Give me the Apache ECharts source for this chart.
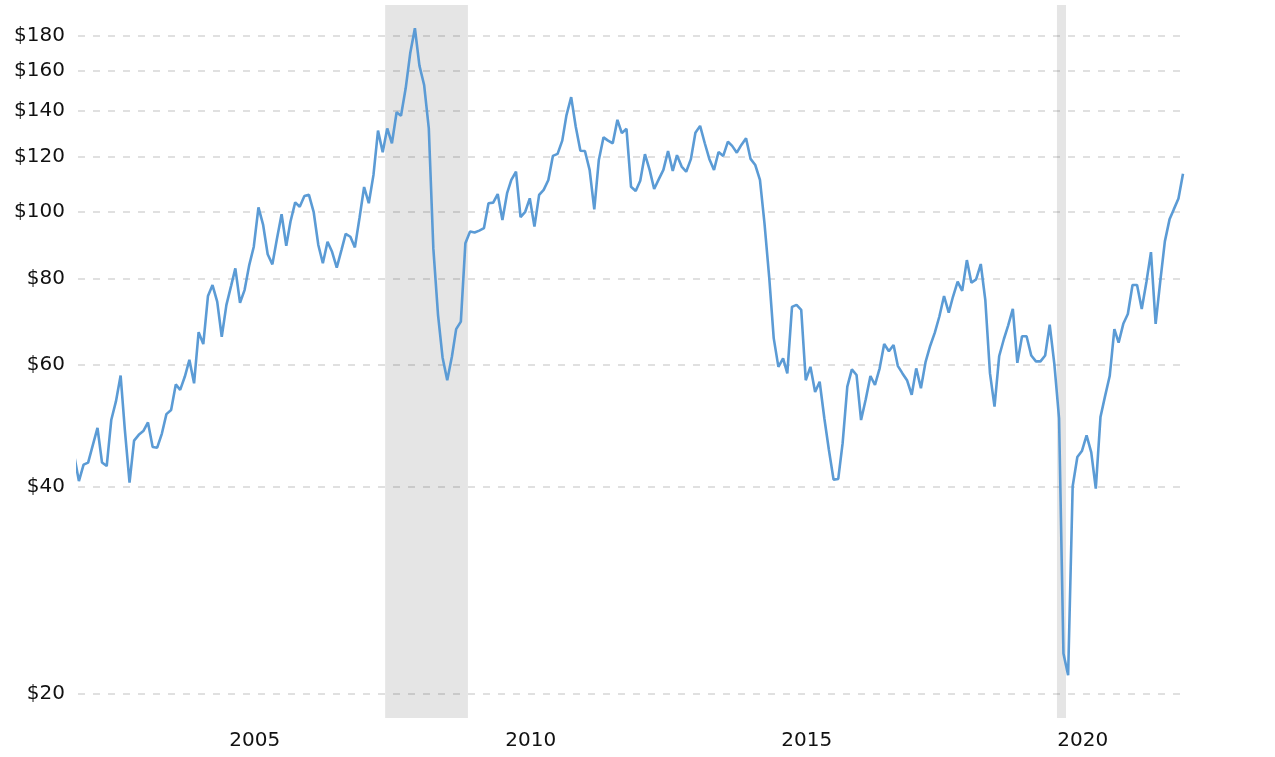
<!DOCTYPE html>
<html>
<head>
<meta charset="utf-8">
<title>Crude oil, inflation adjusted</title>
<script src="https://cdn.jsdelivr.net/npm/echarts@6/dist/echarts.min.js"></script>
<style>
  html, body { margin: 0; padding: 0; background: #fff; }
  #chart { width: 1275px; height: 757px; }
</style>
</head>
<body>
<div id="chart"></div>
<script>
// monthly values, first one is April 2002, last one is May 2022
const startYear = 2002
const startMonth = 4
const prices = [
  44.2, 40.7, 43.0, 43.3, 45.9, 48.6, 43.3, 42.8, 49.9,
  53.1, 57.9, 48.3, 40.5, 46.6, 47.5, 48.1, 49.5, 45.6, 45.5, 47.7, 50.9,
  51.6, 56.2, 55.2, 57.7, 61.0, 56.4, 66.9, 64.3, 75.5, 78.3, 74.1, 65.9,
  73.3, 78.1, 82.8, 73.8, 77.0, 83.7, 89.0, 101.5, 95.7, 86.8, 83.9, 91.3,
  99.2, 89.3, 96.8, 103.2, 101.7, 105.4, 105.8, 100.0, 89.5, 84.2, 90.5, 87.5,
  83.0, 88.0, 92.9, 92.0, 88.8, 98.1, 108.6, 102.9, 113.1, 131.1, 122.0, 132.1,
  125.7, 139.4, 137.8, 151.0, 169.7, 184.5, 162.9, 152.7, 132.1, 88.5, 70.9, 61.5,
  57.0, 61.7, 67.6, 69.3, 90.0, 93.6, 93.3, 93.9, 94.7, 102.9, 103.1, 106.1,
  97.3, 106.4, 111.2, 114.3, 98.2, 100.0, 104.6, 95.2, 105.8, 107.6, 111.2, 120.5,
  121.3, 126.8, 138.1, 146.6, 132.9, 122.6, 122.5, 115.0, 100.8, 118.9, 128.2, 126.8,
  125.7, 135.9, 130.0, 131.9, 108.7, 107.2, 110.9, 121.2, 115.0, 107.9, 111.5, 115.0,
  122.5, 114.6, 120.8, 116.3, 114.3, 119.2, 130.2, 133.2, 125.7, 119.3, 115.0, 122.1,
  120.5, 126.4, 124.6, 121.8, 125.0, 127.8, 119.3, 116.9, 111.2, 96.2, 80.5, 65.6,
  59.6, 61.3, 58.3, 72.8, 73.3, 72.1, 57.0, 59.6, 54.8, 56.7, 50.2, 45.2,
  40.9, 41.0, 46.2, 55.8, 59.1, 58.0, 49.9, 53.5, 57.8, 56.1, 59.3, 64.3,
  62.8, 64.1, 59.8, 58.3, 57.0, 54.3, 59.3, 55.5, 60.6, 63.9, 66.8, 70.5,
  75.5, 71.4, 75.3, 79.2, 76.8, 85.1, 78.9, 79.8, 84.0, 74.5, 58.3, 52.2,
  61.8, 65.4, 68.4, 72.3, 60.4, 66.0, 66.0, 61.9, 60.7, 60.7, 61.9, 68.6,
  60.1, 50.2, 22.9, 21.3, 40.0, 44.1, 45.0, 47.4, 44.8, 39.7, 50.4, 54.0,
  57.8, 67.6, 64.6, 68.8, 71.1, 78.3, 78.3, 72.3, 79.1, 87.4, 68.8, 79.1,
  90.6, 97.5, 100.8, 104.5, 113.5
]

const yTicks = [20, 40, 60, 80, 100, 120, 140, 160, 180]
const yearTicks = [2005, 2010, 2015, 2020]
const recessions = [
  ['2007-12-01', '2009-06-01'],
  ['2020-02-01', '2020-04-01']
]

let ms = function (s) {
  return Date.parse(s + 'T00:00:00Z')
}
let addZero = function (num) {
  return num < 10 ? '0' + num : '' + num
}

// one point per month, placed mid-month
let points = []
for (let i = 0; i < prices.length; i++) {
  let m = startMonth - 1 + i
  let y = startYear + Math.floor(m / 12)
  let mm = (m % 12) + 1
  points.push([ms(y + '-' + addZero(mm) + '-15'), prices[i]])
}

let dom = document.getElementById('chart')
let myChart = echarts.init(dom)

let option = {
  animation: false,
  backgroundColor: '#fff',
  grid: {
    left: 78,
    right: 92,
    top: 5,
    bottom: 39,
    outerBoundsMode: 'none'
  },
  xAxis: {
    type: 'value',
    min: ms('2002-05-09'),
    max: ms('2022-05-15'),
    axisLine: { show: false },
    axisTick: { show: false, customValues: yearTicks.map(y => ms(y + '-01-01')) },
    splitLine: { show: false },
    axisLabel: {
      customValues: yearTicks.map(y => ms(y + '-01-01')),
      formatter: function (value) {
        return new Date(value).getUTCFullYear() + ''
      },
      align: 'left',
      padding: [0, 0, 0, 5],
      margin: 13,
      color: '#111',
      fontSize: 20,
      fontFamily: '"DejaVu Sans", Verdana, sans-serif'
    }
  },
  yAxis: {
    type: 'log',
    logBase: 10,
    min: 18.46,
    max: 199.4,
    axisLine: { show: false },
    axisTick: { show: false, customValues: yTicks },
    axisLabel: {
      customValues: yTicks,
      formatter: function (value) {
        return '$' + Math.round(value)
      },
      margin: 13,
      color: '#111',
      fontSize: 20,
      fontFamily: '"DejaVu Sans", Verdana, sans-serif'
    },
    splitLine: {
      show: true,
      lineStyle: {
        color: '#d6d6d6',
        width: 1.5,
        type: [7, 8]
      }
    }
  },
  series: [{
    name: 'Crude oil',
    type: 'line',
    data: points,
    symbol: 'none',
    smooth: false,
    lineStyle: { color: '#5b9bd5', width: 2.6 },
    itemStyle: { color: '#5b9bd5' },
    markArea: {
      silent: true,
      itemStyle: { color: 'rgba(0,0,0,0.1)' },
      data: recessions.map(r => [{ xAxis: ms(r[0]) }, { xAxis: ms(r[1]) }])
    }
  }]
}

myChart.setOption(option, true)

window.addEventListener('resize', function () {
  myChart.resize()
})
</script>
</body>
</html>
